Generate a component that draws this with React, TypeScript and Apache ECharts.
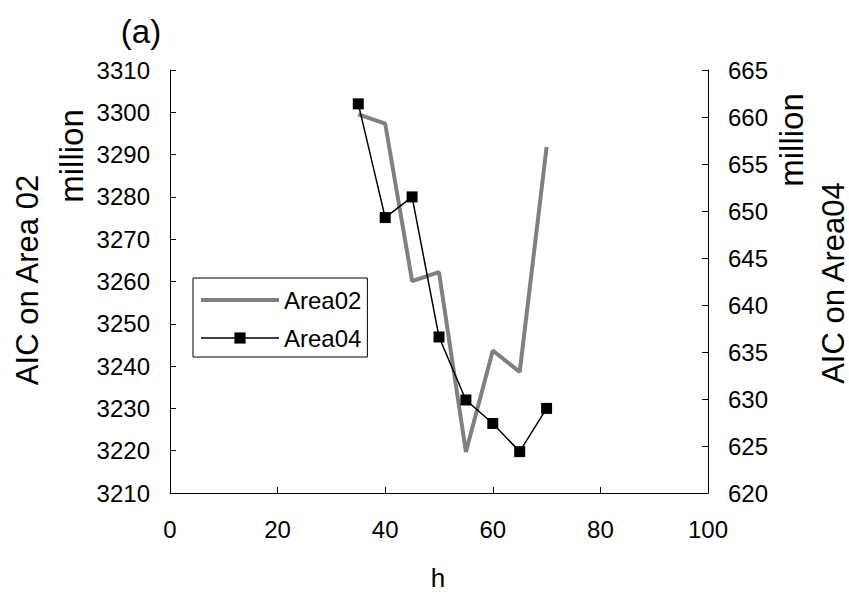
import React, { useEffect, useRef } from "react";
import * as echarts from "echarts";

const hValues = [35, 40, 45, 50, 55, 60, 65, 70];
const area02 = [3299.5, 3297.3, 3260.1, 3262.2, 3219.7, 3243.7, 3238.6, 3291.8];
const area04 = [661.4, 649.3, 651.5, 636.6, 629.9, 627.4, 624.4, 629.0];
const seriesNames = ["Area02", "Area04"];
const leftAxisName = "AIC on Area 02";
const rightAxisName = "AIC on Area04";
const unitText = "million";
const xAxisName = "h";
const panelLabel = "(a)";

const FONT = "'Liberation Sans', Arial, sans-serif";

export default function App() {
  const ref = useRef<HTMLDivElement>(null);
  useEffect(() => {
    if (!ref.current) return;
    const chart = echarts.init(ref.current, undefined, { renderer: "svg" });
    const labelStyle = { fontSize: 24, color: "#000", fontFamily: FONT, formatter: (v: number) => String(v) };
    const axisLine = { show: true, lineStyle: { color: "#000", width: 1 } };
    const axisTick = { show: true, inside: true, length: 6, lineStyle: { color: "#000", width: 1 } };
    const txt = (text: string, x: number, y: number, size: number, rot = 0) => ({
      type: "text",
      x,
      y,
      rotation: rot,
      style: {
        text,
        fontSize: size,
        fontFamily: FONT,
        fill: "#000",
        textAlign: "center",
        textVerticalAlign: "middle",
      },
    });
    chart.setOption({
      animation: false,
      backgroundColor: "#fff",
      grid: { left: 170, right: 141, top: 70, bottom: 102, containLabel: false },
      xAxis: {
        type: "value",
        min: 0,
        max: 100,
        interval: 20,
        axisLine,
        axisTick,
        splitLine: { show: false },
        axisLabel: { ...labelStyle, margin: 24 },
      },
      yAxis: [
        {
          type: "value",
          min: 3210,
          max: 3310,
          interval: 10,
          position: "left",
          axisLine,
          axisTick,
          splitLine: { show: false },
          axisLabel: { ...labelStyle, margin: 20 },
        },
        {
          type: "value",
          min: 620,
          max: 665,
          interval: 5,
          position: "right",
          axisLine,
          axisTick,
          splitLine: { show: false },
          axisLabel: { ...labelStyle, margin: 20 },
        },
      ],
      legend: {
        orient: "vertical",
        left: 193,
        top: 278,
        padding: [9, 6, 6, 6],
        itemWidth: 78,
        itemHeight: 14,
        itemGap: 12,
        borderColor: "#000",
        borderWidth: 1,
        backgroundColor: "#fff",
        textStyle: { fontSize: 24, color: "#000", fontFamily: FONT, lineHeight: 26 },
        data: [
          {
            name: seriesNames[0],
            itemStyle: { opacity: 0 },
            lineStyle: { width: 4, color: "#808080" },
          },
          {
            name: seriesNames[1],
            lineStyle: { width: 1.5, color: "#000" },
          },
        ],
      },
      series: [
        {
          name: seriesNames[0],
          type: "line",
          yAxisIndex: 0,
          data: hValues.map((h, i) => [h, area02[i]]),
          symbol: "none",
          lineStyle: { color: "#808080", width: 4 },
          itemStyle: { color: "#808080" },
          z: 2,
        },
        {
          name: seriesNames[1],
          type: "line",
          yAxisIndex: 1,
          data: hValues.map((h, i) => [h, area04[i]]),
          symbol: "rect",
          symbolSize: 11,
          lineStyle: { color: "#000", width: 1.5 },
          itemStyle: { color: "#000" },
          z: 3,
        },
      ],
      graphic: [
        txt(panelLabel, 141, 31, 33),
        txt(leftAxisName, 27, 280, 31, Math.PI / 2),
        txt(unitText, 71, 156, 33, Math.PI / 2),
        txt(unitText, 791, 140, 33, Math.PI / 2),
        txt(rightAxisName, 833, 283, 31, Math.PI / 2),
        txt(xAxisName, 438, 578, 26),
      ],
    });
    return () => chart.dispose();
  }, []);
  return (
    <div
      ref={ref}
      style={{ position: "fixed", left: 0, top: 0, width: 849, height: 595 }}
    />
  );
}
